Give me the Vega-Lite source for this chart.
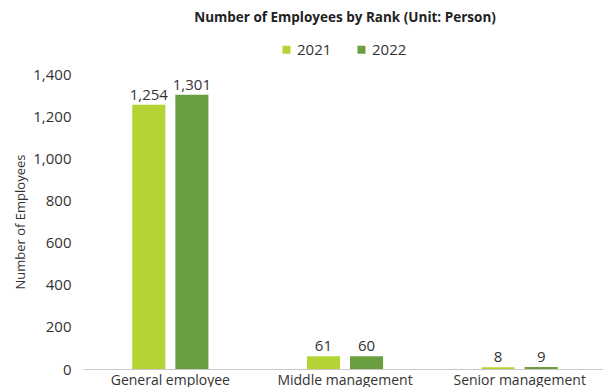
{
  "$schema": "https://vega.github.io/schema/vega-lite/v6.json",
  "width": 524,
  "height": 295,
  "padding": {"left": 14, "top": 10, "right": 0, "bottom": 0},
  "background": "white",
  "config": {
    "view": {"stroke": null},
    "font": "Open Sans"
  },
  "title": {
    "text": "Number of Employees by Rank (Unit: Person)",
    "fontSize": 13.5,
    "fontWeight": "bold",
    "color": "#222222",
    "anchor": "middle",
    "offset": 18,
    "font": "Open Sans"
  },
  "data": {
    "values": [
      {"rank": "General employee", "year": "2021", "count": 1254},
      {"rank": "General employee", "year": "2022", "count": 1301},
      {"rank": "Middle management", "year": "2021", "count": 61},
      {"rank": "Middle management", "year": "2022", "count": 60},
      {"rank": "Senior management", "year": "2021", "count": 8},
      {"rank": "Senior management", "year": "2022", "count": 9}
    ]
  },
  "encoding": {
    "x": {
      "field": "rank",
      "type": "nominal",
      "sort": null,
      "scale": {"paddingInner": 0.564, "paddingOuter": 0.282},
      "axis": {
        "title": null,
        "labelAngle": 0,
        "labelFontSize": 14,
        "labelColor": "#333333",
        "labelPadding": 4,
        "ticks": false,
        "domainColor": "#c8c8c8",
        "domainWidth": 1
      }
    },
    "xOffset": {
      "field": "year",
      "type": "nominal",
      "scale": {"paddingInner": 0.233, "paddingOuter": 0}
    },
    "y": {
      "field": "count",
      "type": "quantitative",
      "scale": {"domain": [0, 1400], "nice": false},
      "axis": {
        "values": [0, 200, 400, 600, 800, 1000, 1200, 1400],
        "format": ",d",
        "title": "Number of Employees",
        "titleFontSize": 13,
        "titleFontWeight": "normal",
        "titleColor": "#333333",
        "titlePadding": 5,
        "labelFontSize": 15,
        "labelColor": "#333333",
        "labelPadding": 12,
        "ticks": false,
        "domain": false,
        "grid": false
      }
    },
    "color": {
      "field": "year",
      "type": "nominal",
      "scale": {"domain": ["2021", "2022"], "range": ["#b4d334", "#6a9f40"]},
      "legend": {
        "title": null,
        "orient": "none",
        "direction": "horizontal",
        "legendX": 196,
        "legendY": -32,
        "symbolType": "square",
        "symbolSize": 64,
        "symbolStrokeWidth": 0,
        "labelFontSize": 15,
        "labelColor": "#333333",
        "labelOffset": 3,
        "columnPadding": 22
      }
    }
  },
  "layer": [
    {"mark": {"type": "bar"}},
    {
      "mark": {"type": "text", "baseline": "bottom", "dy": -2, "fontSize": 15},
      "encoding": {
        "text": {"field": "count", "type": "quantitative", "format": ",d"},
        "color": {"value": "#333333"}
      }
    }
  ]
}
